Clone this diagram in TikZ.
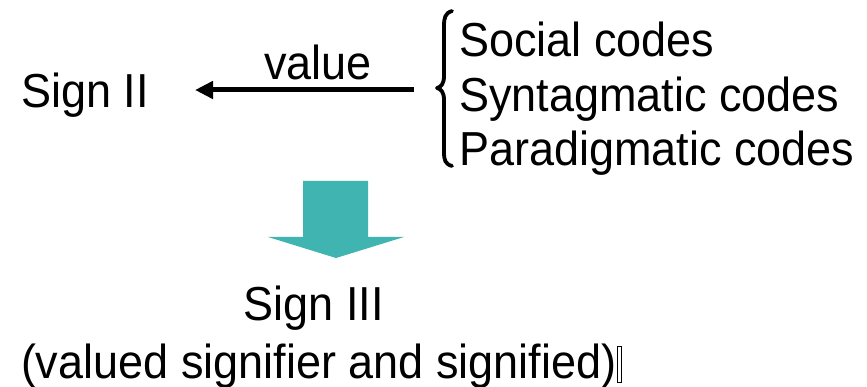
\documentclass[tikz,border=0pt]{standalone}
\usepackage{fontspec}
\setmainfont{Liberation Sans}
\usetikzlibrary{arrows.meta}
\definecolor{blockteal}{HTML}{3FB4B1}
\newcommand{\stretchtxt}[1]{\scalebox{1}[1.06]{#1}}
\begin{document}
\begin{tikzpicture}[x=1pt,y=-1pt,
  lbl/.style={font=\fontsize{45}{54}\selectfont, inner sep=0pt, outer sep=0pt},
  flowarrow/.style={line width=5pt, -{Triangle[length=18pt,width=17pt]}},
  bracepath/.style={line width=3.8pt, line cap=round, line join=round},
  blockarrow/.style={fill=blockteal, draw=none}]
  \useasboundingbox (0,0) rectangle (867,387);

  % left sign and the arrow reaching it
  \node[lbl, anchor=base west] (sign2) at (21,108) {\stretchtxt{Sign II}};
  \node[lbl, anchor=base] (value) at (318,80) {\stretchtxt{value}};
  \coordinate (arrowstart) at (414,90);
  \coordinate (arrowtip) at (195,90);
  \draw[flowarrow] (arrowstart) -- (arrowtip);

  % brace grouping the codes
  \draw[bracepath] (452,11) .. controls (445,13) and (444,18) .. (444,26)
     -- (444,76) .. controls (444,84) and (441,87) .. (437,88)
     .. controls (441,89) and (444,92) .. (444,100)
     -- (444,152) .. controls (444,160) and (445,164) .. (452,166);
  \node[lbl, anchor=base west] (social) at (459,57) {\stretchtxt{Social codes}};
  \node[lbl, anchor=base west] (syntag) at (459,112) {\stretchtxt{Syntagmatic codes}};
  \node[lbl, anchor=base west] (paradig) at (459,166) {\stretchtxt{Paradigmatic codes}};

  % downward block arrow
  \fill[blockarrow] (303,181) -- (368,181) -- (368,237) -- (404,237)
     -- (336,258) -- (268,237) -- (303,237) -- cycle;

  % resulting sign
  \node[lbl, anchor=base] (sign3) at (314,320) {\stretchtxt{Sign III}};
  \node[lbl, anchor=base west] (valued) at (21,378)
     {\stretchtxt{(valued signifier and signified)}};
  \draw[line width=0.9pt] ([xshift=1.5pt]valued.base east) ++(0,4)
     rectangle ++(3.5,-36);
\end{tikzpicture}
\end{document}
